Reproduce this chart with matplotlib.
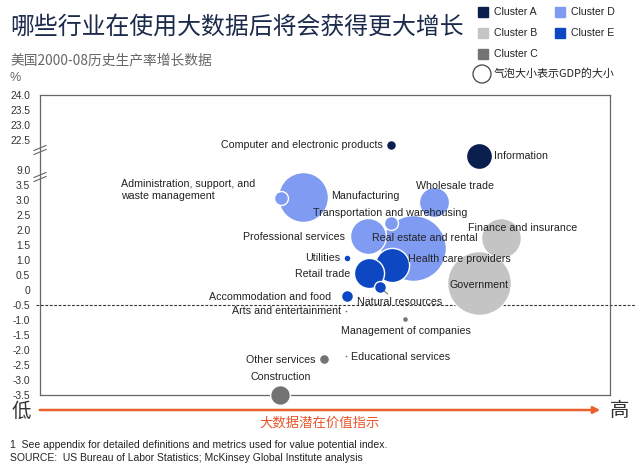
import numpy as np
import matplotlib
matplotlib.use('Agg')
import matplotlib.pyplot as plt
from matplotlib.lines import Line2D
from matplotlib.patches import Rectangle, Circle, FancyArrowPatch

plt.rcParams['font.family'] = ['Liberation Sans', 'Noto Sans CJK SC', 'DejaVu Sans']

# industries, value potential index (x), productivity growth % (y), GDP share (bubble area)
industries = ['Computer and electronic products', 'Information',
              'Administration, support, and\nwaste management', 'Manufacturing',
              'Wholesale trade', 'Transportation and warehousing', 'Professional services',
              'Real estate and rental', 'Health care providers', 'Retail trade',
              'Natural resources', 'Utilities', 'Accommodation and food',
              'Finance and insurance', 'Government', 'Arts and entertainment',
              'Management of companies', 'Other services', 'Educational services',
              'Construction']
value_index = [61.6, 77.0, 42.3, 46.1, 69.1, 61.6, 57.5, 65.4, 61.8, 57.7,
               59.6, 53.9, 53.9, 80.9, 77.0, 53.7, 64.0, 49.8, 53.7, 42.1]
growth = [20.2, 15.3, 3.07, 3.1, 2.93, 2.23, 1.8, 1.4, 0.83, 0.57,
          0.1, 1.07, -0.2, 1.73, 0.23, -0.7, -0.97, -2.3, -2.2, -3.5]
gdp_share = [0.3, 2.1, 0.6, 7.7, 2.8, 0.6, 4.0, 13.4, 3.6, 2.8,
             0.44, 0.15, 0.44, 4.9, 12.6, 0.03, 0.11, 0.31, 0.03, 1.2]
cluster = ['A', 'A', 'D', 'D', 'D', 'D', 'D', 'D', 'E', 'E',
           'E', 'E', 'E', 'B', 'B', 'C', 'C', 'C', 'C', 'C']

tick_values = [24.0, 23.5, 23.0, 22.5, 9.0, 3.5, 3.0, 2.5, 2.0, 1.5, 1.0, 0.5, 0.0,
               -0.5, -1.0, -1.5, -2.0, -2.5, -3.0, -3.5]

cluster_colors = {'A': '#0b1f4e', 'B': '#c4c4c4', 'C': '#737373',
                  'D': '#7f9bf2', 'E': '#0d47c2'}

# label offsets in pixels (dx, dy downward) and alignment
label_layout = {
    'Computer and electronic products': (-8, 0, 'right'),
    'Information': (15, 0, 'left'),
    'Administration, support, and\nwaste management': (-160, -8, 'left'),
    'Manufacturing': (28, -1, 'left'),
    'Wholesale trade': (-18, -16, 'left'),
    'Transportation and warehousing': (-78, -10, 'left'),
    'Professional services': (-23, 1, 'right'),
    'Real estate and rental': (-41, -10, 'left'),
    'Health care providers': (16, -6, 'left'),
    'Retail trade': (-19, 1, 'right'),
    'Natural resources': (-23, 15, 'left'),
    'Utilities': (-7, 0, 'right'),
    'Accommodation and food': (-16, 1, 'right'),
    'Finance and insurance': (-33, -10, 'left'),
    'Government': (-29, 2, 'left'),
    'Arts and entertainment': (-5, 0, 'right'),
    'Management of companies': (-64, 12, 'left'),
    'Other services': (-8, 1, 'right'),
    'Educational services': (5, 1, 'left'),
    'Construction': (1, -18, 'center'),
}


def to_axis(v):
    # broken y axis: compress 3.5-9.0 and 9.0-22.5
    v = np.asarray(v, dtype=float)
    return np.where(v <= 3.5, v,
           np.where(v <= 9.0, 3.5 + (v - 3.5) / 5.5 * 0.5,
           np.where(v <= 22.5, 4.0 + (v - 9.0) / 13.5, 5.0 + (v - 22.5))))


W, H = 640, 471
fig = plt.figure(figsize=(6.4, 4.71), dpi=100)
ax = fig.add_axes([40 / W, 1 - 395 / H, 570 / W, 300 / H])
ax.set_xlim(0, 100)
ax.set_ylim(-3.5, 6.5)

px2pt = 0.72
x = np.array(value_index)
y = to_axis(growth)
r_px = 9 * np.sqrt(np.array(gdp_share))
sizes = (2 * r_px * px2pt) ** 2
# big bubbles first so the small ones stay visible
order = np.argsort(-np.array(gdp_share))
for i in order:
    ax.scatter(x[i], y[i], s=sizes[i], color=cluster_colors[cluster[i]],
               edgecolor='white', linewidth=1.0, zorder=3, clip_on=False)

for i, name in enumerate(industries):
    dx, dy, ha = label_layout[name]
    ax.annotate(name, (x[i], y[i]), xytext=(dx * px2pt, -dy * px2pt),
                textcoords='offset points', ha=ha, va='center',
                fontsize=7.7, color='#222222', zorder=5, linespacing=1.25)

# leader line for natural resources
nr = industries.index('Natural resources')
ax.annotate('', (x[nr], y[nr]), xytext=(8 * px2pt, -7 * px2pt),
            textcoords='offset points',
            arrowprops=dict(arrowstyle='-', color='#555555', lw=0.6,
                            shrinkA=0, shrinkB=4), zorder=4)

# dashed reference line at -0.5
ax.plot([-0.007, 1.044], [to_axis(-0.5)] * 2, transform=ax.get_yaxis_transform(),
        ls=(0, (2.5, 1.5)), color='#333333', lw=0.8, clip_on=False, zorder=1)

ax.set_xticks([])
ax.set_yticks(to_axis(tick_values))
ax.set_yticklabels(['0' if t == 0 else f'{t:.1f}' for t in tick_values],
                   fontsize=7.4, color='#333333')
ax.tick_params(axis='y', length=0, pad=7)
for sp in ax.spines.values():
    sp.set_color('#666666')
    sp.set_linewidth(0.9)

# axis break marks
for yb in (150, 177):
    for off in (-2, 2):
        fig.add_artist(Line2D([34 / W, 46 / W],
                              [1 - (yb + off + 2.5) / H, 1 - (yb + off - 2.5) / H],
                              color='#666666', lw=0.8))

# title, subtitle
fig.text(10 / W, 1 - 27 / H, '哪些行业在使用大数据后将会获得更大增长', fontsize=17.2,
         color='#1c2b4c', va='center', family=['Noto Sans CJK SC'])
fig.text(10 / W, 1 - 60 / H, '美国2000-08历史生产率增长数据', fontsize=9.9,
         color='#666666', va='center', family=['Noto Sans CJK SC'])
fig.text(10 / W, 1 - 78 / H, '%', fontsize=9, color='#666666', va='center')

# legend
legend_items = [('A', 483, 12), ('B', 483, 33), ('C', 483, 54), ('D', 560, 12), ('E', 560, 33)]
for key, lx, ly in legend_items:
    fig.add_artist(Rectangle(((lx - 5) / W, 1 - (ly + 5) / H), 10 / W, 10 / H,
                             color=cluster_colors[key]))
    fig.text((lx + 11) / W, 1 - ly / H, f'Cluster {key}', fontsize=7.6,
             color='#222222', va='center')
fig.add_artist(Circle((482, H - 74), 9, transform=None, facecolor='white',
                      edgecolor='#444444', lw=0.9))
fig.text(494 / W, 1 - 74 / H, '气泡大小表示GDP的大小', fontsize=7.9, color='#222222',
         va='center', family=['Noto Sans CJK SC'])

# value potential arrow
fig.add_artist(FancyArrowPatch(
    (37 / W, 1 - 410 / H), (603 / W, 1 - 410 / H), transform=fig.transFigure,
    arrowstyle='-|>,head_length=4,head_width=2', color='#e8602c', lw=1.8))
fig.text(21 / W, 1 - 411 / H, '低', fontsize=14, color='#333333', va='center',
         ha='center', family=['Noto Sans CJK SC'])
fig.text(620 / W, 1 - 411 / H, '高', fontsize=14, color='#333333', va='center',
         ha='center', family=['Noto Sans CJK SC'])
fig.text(320 / W, 1 - 423 / H, '大数据潜在价值指示', fontsize=9.6, color='#e8552a',
         va='center', ha='center', family=['Noto Sans CJK SC'])

# footnotes
fig.text(10 / W, 1 - 445 / H,
         '1  See appendix for detailed definitions and metrics used for value potential index.',
         fontsize=7.5, color='#222222', va='center')
fig.text(10 / W, 1 - 458 / H,
         'SOURCE:  US Bureau of Labor Statistics; McKinsey Global Institute analysis',
         fontsize=7.5, color='#222222', va='center')

fig.savefig('out.png', dpi=100)
